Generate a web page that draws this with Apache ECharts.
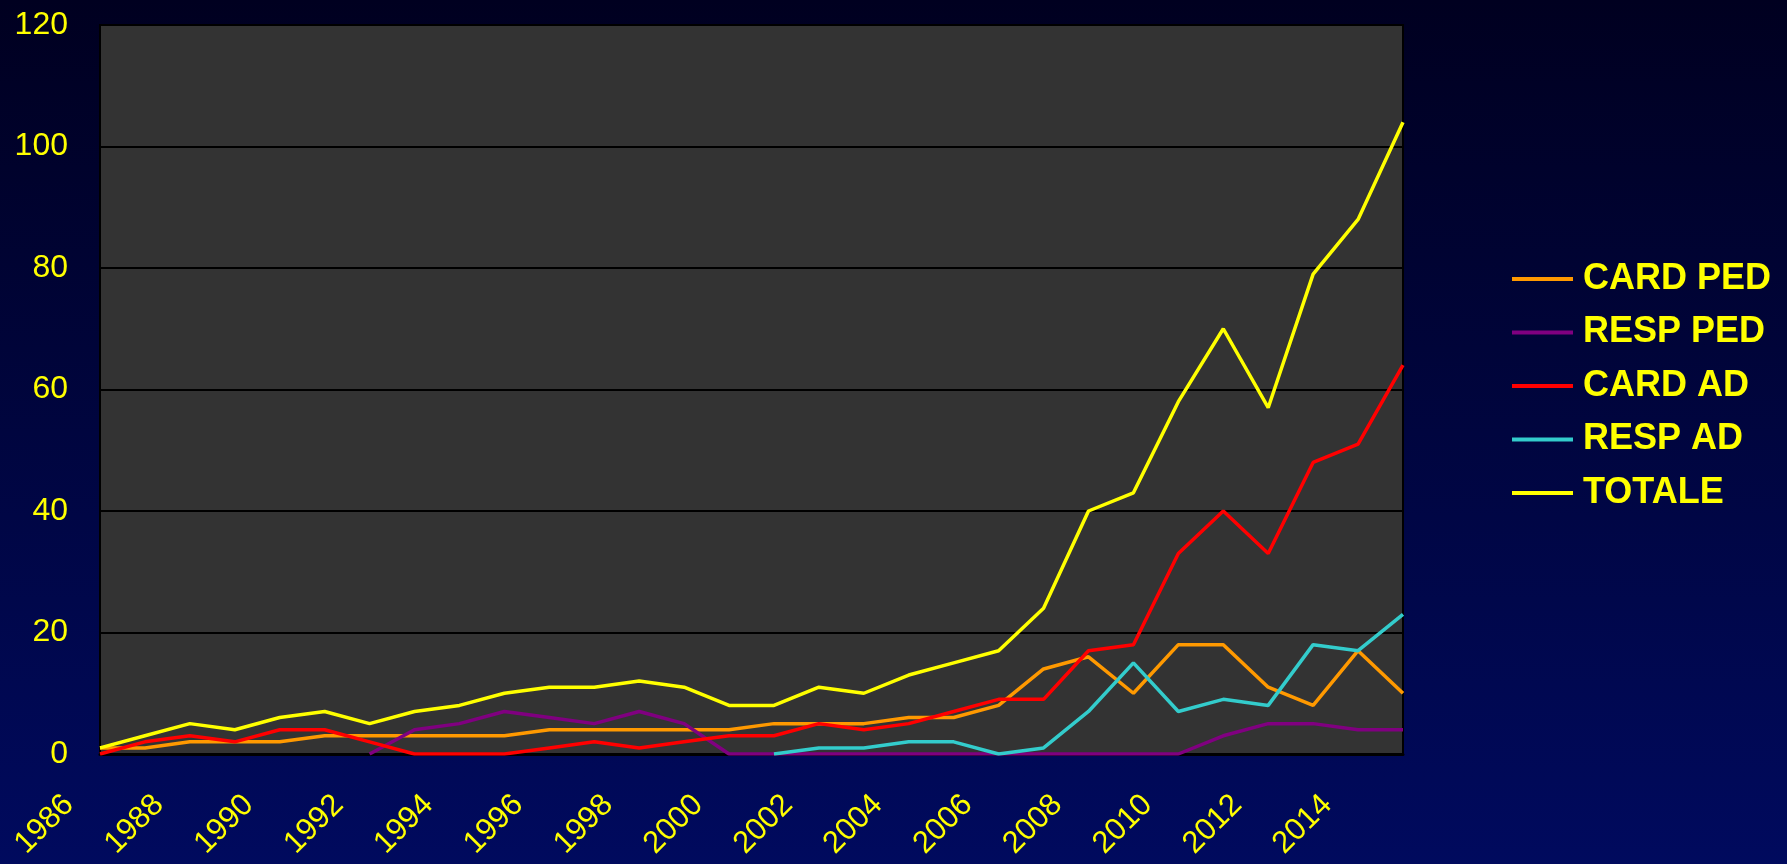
<!DOCTYPE html>
<html>
<head>
<meta charset="utf-8">
<title>Andamento annuale</title>
<script src="https://cdn.jsdelivr.net/npm/echarts@6/dist/echarts.min.js"></script>
<style>
  html, body { margin: 0; padding: 0; width: 100%; height: 100%; overflow: hidden; background: #000020; }
  #chart { width: 1787px; height: 864px; }
</style>
</head>
<body>
<div id="chart"></div>
<script>
// Years on the horizontal axis
const years = [
  '1986','1987','1988','1989','1990','1991','1992','1993','1994','1995',
  '1996','1997','1998','1999','2000','2001','2002','2003','2004','2005',
  '2006','2007','2008','2009','2010','2011','2012','2013','2014','2015'
];

// Series values per year (null = not yet recorded)
const cardPed = [1,1,2,2,2,3,3,3,3,3, 4,4,4,4,4,5,5,5,6,6, 8,14,16,10,18,18,11,8,17,10];
const respPed = [null,null,null,null,null,null,0,4,5,7, 6,5,7,5,0,0,0,0,0,0, 0,0,0,0,0,3,5,5,4,4];
const cardAd  = [0,2,3,2,4,4,2,0,0,0, 1,2,1,2,3,3,5,4,5,7, 9,9,17,18,33,40,33,48,51,64];
const respAd  = [null,null,null,null,null,null,null,null,null,null, null,null,null,null,null,0,1,1,2,2, 0,1,7,15,7,9,8,18,17,23];
const totale  = [1,3,5,4,6,7,5,7,8,10, 11,11,12,11,8,8,11,10,13,15, 17,24,40,43,58,70,57,79,88,104];

const seriesNames = ['CARD PED', 'RESP PED', 'CARD AD', 'RESP AD', 'TOTALE'];
const seriesData = [cardPed, respPed, cardAd, respAd, totale];
const seriesColors = ['#FF9900', '#800080', '#FF0000', '#33CCCC', '#FFFF00'];

const yMin = 0, yMax = 120, yStep = 20;

const FONT = '"Liberation Sans", Arial, Helvetica, sans-serif';
const YELLOW = '#FFFF00';

const chart = echarts.init(document.getElementById('chart'), null, { renderer: 'canvas' });

chart.setOption({
  animation: false,
  backgroundColor: {
    type: 'linear', x: 0, y: 0, x2: 0, y2: 1,
    colorStops: [
      { offset: 0, color: '#000020' },
      { offset: 1, color: '#000a5e' }
    ]
  },
  grid: [
    {
      // plot area
      left: 100, right: 384, top: 25, bottom: 110,
      show: true,
      backgroundColor: '#333333',
      borderColor: '#000000',
      borderWidth: 2
    },
    {
      // same width, nudged left: carries only the slanted year labels
      left: 69, right: 415, top: 25, bottom: 110,
      show: false
    }
  ],
  legend: {
    orient: 'vertical',
    left: 1512,
    top: 261,
    padding: 0,
    icon: 'rect',
    itemWidth: 61,
    itemHeight: 4,
    itemGap: 17.5,
    data: seriesNames,
    textStyle: {
      color: YELLOW,
      fontFamily: FONT,
      fontWeight: 'bold',
      fontSize: 36,
      lineHeight: 36,
      padding: [0, 0, 0, 5]
    }
  },
  xAxis: [
    {
      type: 'category',
      gridIndex: 0,
      data: years,
      boundaryGap: false,
      axisLine: { show: true, lineStyle: { color: '#000000', width: 3 } },
      axisTick: { show: false },
      splitLine: { show: false },
      axisLabel: { show: false }
    },
    {
      type: 'category',
      gridIndex: 1,
      data: years,
      boundaryGap: false,
      axisLine: { show: false },
      axisTick: { show: false },
      splitLine: { show: false },
      axisLabel: {
        interval: 1,
        rotate: 45,
        margin: 46,
        color: YELLOW,
        fontFamily: FONT,
        fontSize: 31
      }
    }
  ],
  yAxis: [
    {
      type: 'value',
      gridIndex: 0,
      min: yMin,
      max: yMax,
      interval: yStep,
      axisLine: { show: true, lineStyle: { color: '#000000', width: 2 } },
      axisTick: { show: false },
      splitLine: { show: true, lineStyle: { color: '#000000', width: 2 } },
      axisLabel: {
        margin: 32,
        color: YELLOW,
        fontFamily: FONT,
        fontSize: 32
      }
    },
    {
      type: 'value',
      gridIndex: 1,
      min: yMin,
      max: yMax,
      interval: yStep,
      show: false
    }
  ],
  series: seriesNames.map((name, i) => ({
    name: name,
    type: 'line',
    xAxisIndex: 0,
    yAxisIndex: 0,
    data: seriesData[i],
    showSymbol: false,
    symbol: 'none',
    connectNulls: false,
    lineStyle: { color: seriesColors[i], width: 3.5 },
    itemStyle: { color: seriesColors[i] },
    z: 2 + i
  }))
});
</script>
</body>
</html>
